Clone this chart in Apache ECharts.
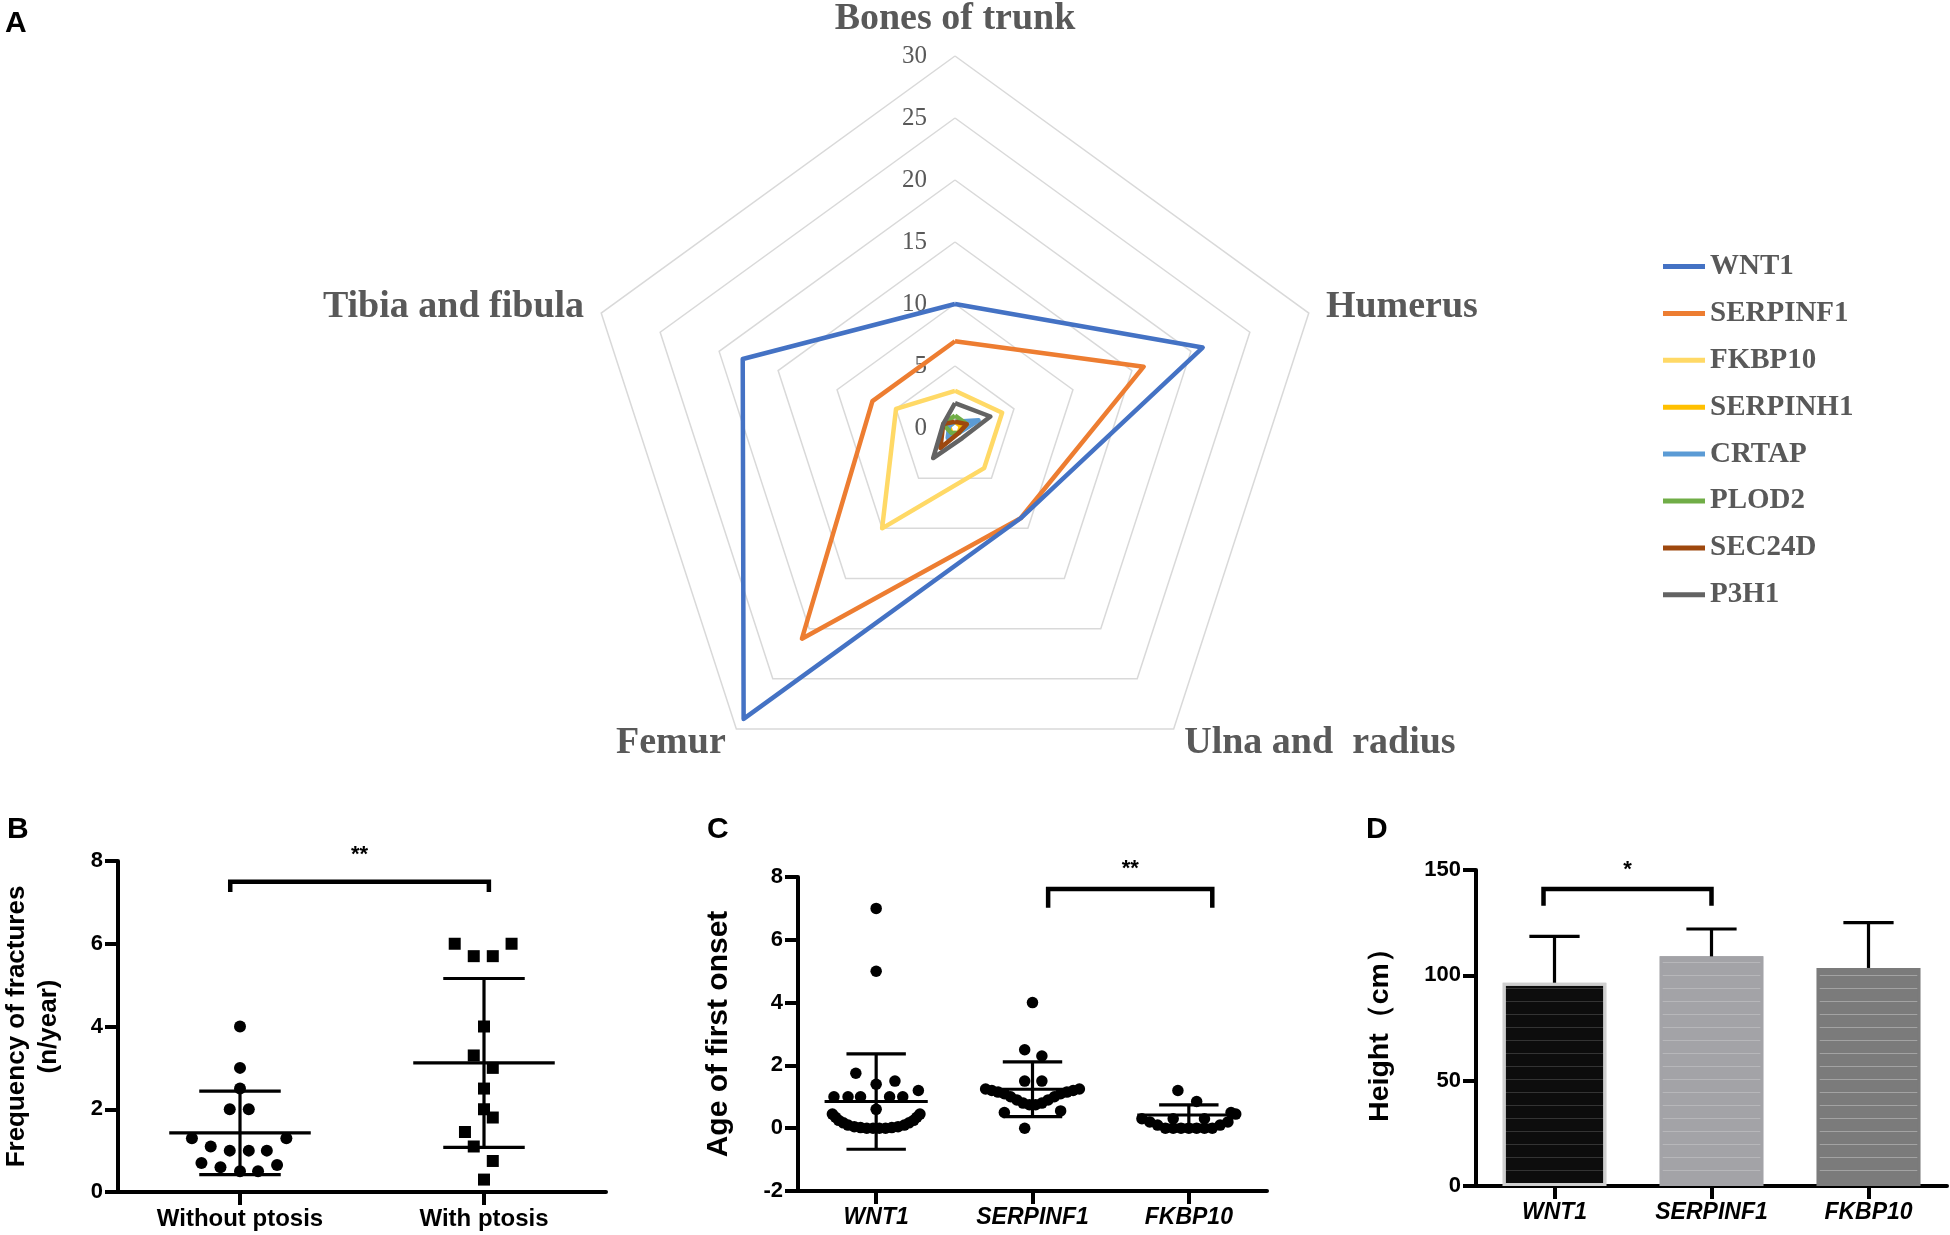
<!DOCTYPE html>
<html><head><meta charset="utf-8">
<script src="https://cdn.jsdelivr.net/npm/echarts@6/dist/echarts.min.js"></script>
<style>html,body{margin:0;padding:0;background:#fff}#main{width:1950px;height:1235px}</style>
</head><body><div id="main"></div>
<script>
// ================= DATA =================
// Panel A (radar) - indicators listed clockwise from top
const radarIndicators = ['Bones of trunk', 'Humerus', 'Ulna and  radius', 'Femur', 'Tibia and fibula'];
const radarMax = 30;
const radarGenes = ['WNT1', 'SERPINF1', 'FKBP10', 'SERPINH1', 'CRTAP', 'PLOD2', 'SEC24D', 'P3H1'];
const radarWNT1     = [10, 21, 9, 29, 18];
const radarSERPINF1 = [7, 16, 9, 21, 7];
const radarFKBP10   = [3, 4, 4, 10, 5];
const radarSERPINH1 = [0.5, 0.5, 0.5, 0.5, 0.5];
const radarCRTAP    = [0.5, 2, 0.5, 1, 0.5];
const radarPLOD2    = [1, 1, 0.5, 0.5, 1];
const radarSEC24D   = [0.5, 1, 0.5, 2, 1];
const radarP3H1     = [2, 3, 1, 3, 1];

// Panel B
const bCategories = ['Without ptosis', 'With ptosis'];
const bWithoutValues = [4, 3, 2.5, 2, 2, 1.3, 1.3, 1.1, 1, 1, 1, 0.7, 0.65, 0.6, 0.5, 0.5];
const bWithoutJitter = [0, 0, 0, -0.042, 0.036, -0.197, 0.19, -0.12, -0.042, 0.036, 0.11, -0.158, 0.152, -0.08, 0, 0.074];
const bWithValues = [6, 6, 5.7, 5.7, 4, 3.3, 3, 2.5, 2, 1.8, 1.45, 1.1, 0.75, 0.3];
const bWithJitter = [-0.12, 0.113, -0.042, 0.036, 0, -0.042, 0.036, 0, 0, 0.036, -0.078, -0.042, 0.036, 0];
const bMean = [1.43, 3.12];
const bSD = [1.01, 2.04];
const bSig = [-0.04, 1.02, 7.5, 7.25, 8.15];
const bSigLabel = '**';

// Panel C
const cCategories = ['WNT1', 'SERPINF1', 'FKBP10'];
const cWNT1Values = [7, 5, 1.75, 1.5, 1.4, 1.2, 1, 1, 1, 1, 1, 0.6,
  0.45, 0.35, 0.25, 0.17, 0.1, 0.05, 0.02, 0, 0, 0, 0, 0.02, 0.05, 0.1, 0.17, 0.25, 0.35, 0.45];
const cWNT1Jitter = [0, 0, -0.13, 0.12, 0, 0.27, -0.27, -0.18, -0.1, 0.086, 0.17, 0,
  -0.28, -0.26, -0.24, -0.21, -0.18, -0.14, -0.1, -0.06, -0.02, 0.02, 0.06, 0.1, 0.14, 0.18, 0.21, 0.24, 0.26, 0.28];
const cSERPINF1Values = [4, 2.5, 2.3, 1.5, 1.5, 1.25, 1.2, 1.15, 1.1, 1.0, 0.9, 0.8, 0.75, 0.75, 0.8, 0.9, 1.0, 1.1, 1.15, 1.2, 1.25, 0.5, 0.55, 0];
const cSERPINF1Jitter = [0, -0.05, 0.06, -0.05, 0.06, -0.3, -0.26, -0.22, -0.18, -0.14, -0.1, -0.06, -0.02, 0.02, 0.06, 0.1, 0.14, 0.18, 0.22, 0.26, 0.3, -0.18, 0.18, -0.05];
const cFKBP10Values = [1.2, 0.85, 0.5, 0.45, 0.3, 0.2, 0.1, 0, 0, 0, 0, 0, 0, 0, 0.1, 0.2, 0.3, 0.3];
const cFKBP10Jitter = [-0.07, 0.05, 0.27, 0.3, -0.3, -0.25, -0.2, -0.15, -0.1, -0.05, 0, 0.05, 0.1, 0.15, 0.2, 0.25, -0.1, 0.1];
const cMean = [0.85, 1.24, 0.42];
const cSD = [1.52, 0.87, 0.32];
const cSig = [1.1, 2.15, 7.62, 7.02, 8.25];
const cSigLabel = '**';

// Panel D
const dCategories = ['WNT1', 'SERPINF1', 'FKBP10'];
const dHeight = [96.5, 109, 103.5];
const dSD = [22, 13, 21.5];
const dSig = [-0.07, 1.0, 141, 133, 150];
const dSigLabel = '*';

// ================= STYLE =================
const radarColors = ['#4472C4', '#ED7D31', '#FFD966', '#FFC000', '#5B9BD5', '#70AD47', '#9E480E', '#636363'];
const radarZ = [9, 8, 7, 1, 3, 4, 5, 6];
const dColors = ['#0d0d0d', '#a3a3a7', '#7b7b7b'];
const dBorders = ['#cfcfcf', '#a3a3a7', '#7b7b7b'];
const dDecal = ['rgba(255,255,255,0.16)', 'rgba(255,255,255,0.22)', 'rgba(255,255,255,0.30)'];
const SANS = 'Liberation Sans';
const SERIF = 'Liberation Serif';

// ECharts places radar indicators counter-clockwise: reorder
const ccw = [0, 4, 3, 2, 1];
const reorder = arr => ccw.map(i => arr[i]);
const radarSeriesValues = [radarWNT1, radarSERPINF1, radarFKBP10, radarSERPINH1, radarCRTAP, radarPLOD2, radarSEC24D, radarP3H1];

const chart = echarts.init(document.getElementById('main'), null, {renderer: 'canvas'});

const axisLineStyle = {show: true, onZero: false, lineStyle: {color: '#000', width: 4}};
const axisTickStyle = {show: true, length: 13, lineStyle: {color: '#000', width: 4}};
const yLabel = {color: '#000', fontFamily: SANS, fontWeight: 'bold', fontSize: 22, margin: 15};

function catAxis(grid, cats, italic, size) {
  return {
    type: 'category', gridIndex: grid, data: cats,
    axisLine: axisLineStyle, axisTick: Object.assign({alignWithLabel: true}, axisTickStyle),
    axisLabel: {color: '#000', fontFamily: SANS, fontWeight: 'bold', fontStyle: italic ? 'italic' : 'normal', fontSize: size, margin: 15, interval: 0},
    splitLine: {show: false}
  };
}
function hiddenValX(grid, n) {
  return {type: 'value', gridIndex: grid, min: -0.5, max: n - 0.5, show: false,
    axisLine: {show: false, onZero: false}, splitLine: {show: false}};
}
function yAxis(grid, min, max, interval, name, nameGap, nameSize, lh) {
  return {
    type: 'value', gridIndex: grid, min: min, max: max, interval: interval,
    axisLine: axisLineStyle, axisTick: axisTickStyle,
    axisLabel: yLabel, splitLine: {show: false},
    name: name, nameLocation: 'middle', nameGap: nameGap, nameRotate: 90,
    nameTextStyle: {color: '#000', fontFamily: SANS, fontWeight: 'bold', fontSize: nameSize, lineHeight: lh}
  };
}

function errorBars(meanHalf, capHalf, twoSided) {
  return function (params, api) {
    const x = api.value(0), m = api.value(1), s = api.value(2);
    const band = api.size([1, 0])[0];
    const c = api.coord([x, m]);
    const top = api.coord([x, m + s]);
    const bot = twoSided ? api.coord([x, m - s]) : c;
    const st = {stroke: '#000', lineWidth: 3.2};
    const children = [
      {type: 'line', shape: {x1: top[0], y1: top[1], x2: bot[0], y2: bot[1]}, style: st},
      {type: 'line', shape: {x1: top[0] - band * capHalf, y1: top[1], x2: top[0] + band * capHalf, y2: top[1]}, style: st}
    ];
    if (twoSided) {
      children.push({type: 'line', shape: {x1: c[0] - band * meanHalf, y1: c[1], x2: c[0] + band * meanHalf, y2: c[1]}, style: st});
      children.push({type: 'line', shape: {x1: bot[0] - band * capHalf, y1: bot[1], x2: bot[0] + band * capHalf, y2: bot[1]}, style: st});
    }
    return {type: 'group', children: children};
  };
}
function bracket(label) {
  return function (params, api) {
    const x1 = api.value(0), x2 = api.value(1), y = api.value(2), d = api.value(3), ly = api.value(4);
    const p1 = api.coord([x1, d]), p2 = api.coord([x1, y]), p3 = api.coord([x2, y]), p4 = api.coord([x2, d]);
    const pl = api.coord([(x1 + x2) / 2, ly]);
    return {type: 'group', children: [
      {type: 'polyline', shape: {points: [p1, p2, p3, p4]}, style: {stroke: '#000', lineWidth: 4.5, fill: null}},
      {type: 'text', x: pl[0], y: pl[1], style: {text: label, fill: '#000', font: 'bold 22px ' + SANS, align: 'center', verticalAlign: 'middle'}}
    ]};
  };
}
const zipPts = (vals, jit, idx) => vals.map((v, i) => [idx + jit[i], v]);
const errData = (mean, sd) => mean.map((m, i) => [i, m, sd[i]]);
const dotStyle = {color: '#000', opacity: 1};

const option = {
  backgroundColor: '#fff',
  animation: false,
  title: [
    {text: 'A', left: 0, top: 4, textStyle: {fontFamily: SANS, fontWeight: 'bold', fontSize: 30, color: '#000'}},
    {text: 'B', left: 2, top: 810, textStyle: {fontFamily: SANS, fontWeight: 'bold', fontSize: 30, color: '#000'}},
    {text: 'C', left: 702, top: 810, textStyle: {fontFamily: SANS, fontWeight: 'bold', fontSize: 30, color: '#000'}},
    {text: 'D', left: 1361, top: 810, textStyle: {fontFamily: SANS, fontWeight: 'bold', fontSize: 30, color: '#000'}}
  ],
  legend: {
    data: radarGenes, orient: 'vertical', left: 1658, top: 247,
    icon: 'rect', itemWidth: 42, itemHeight: 5, itemGap: 17.9,
    textStyle: {fontFamily: SERIF, fontWeight: 'bold', fontSize: 29, color: '#595959'}
  },
  radar: {
    center: [955, 428], radius: 372, startAngle: 90, splitNumber: 6, shape: 'polygon',
    indicator: reorder(radarIndicators).map((n, i) => i === 0
      ? {name: n, min: 0, max: radarMax, axisLabel: {show: true}}
      : {name: n, min: 0, max: radarMax}),
    axisName: {fontFamily: SERIF, fontWeight: 'bold', fontSize: 38, color: '#595959'},
    nameGap: 18,
    axisLine: {show: false},
    axisTick: {show: false},
    axisLabel: {show: false, color: '#595959', fontFamily: SERIF, fontSize: 25, margin: 28},
    splitLine: {lineStyle: {color: '#d9d9d9', width: 1.5}},
    splitArea: {show: false}
  },
  grid: [
    {left: 111, top: 861, width: 495, height: 331},
    {left: 798, top: 877, width: 469, height: 314},
    {left: 1476, top: 870, width: 471, height: 316}
  ],
  xAxis: [
    catAxis(0, bCategories, false, 24), hiddenValX(0, 2),
    catAxis(1, cCategories, true, 23), hiddenValX(1, 3),
    catAxis(2, dCategories, true, 23), hiddenValX(2, 3)
  ],
  yAxis: [
    yAxis(0, 0, 8, 2, 'Frequency of fractures\n(n/year)', 53, 26, 32),
    yAxis(1, -2, 8, 2, 'Age of first onset', 62, 30, 34),
    yAxis(2, 0, 150, 50, 'Height（cm）', 80, 28.5, 32)
  ],
  series: [
    ...radarGenes.map((g, i) => ({
      type: 'radar', name: g, symbol: 'none', z: radarZ[i],
      lineStyle: {width: 4.5, color: radarColors[i]}, itemStyle: {color: radarColors[i]},
      data: [{value: reorder(radarSeriesValues[i]), name: g}]
    })),
    // Panel B
    {type: 'scatter', xAxisIndex: 1, yAxisIndex: 0, symbol: 'circle', symbolSize: 12, itemStyle: dotStyle,
      data: zipPts(bWithoutValues, bWithoutJitter, 0)},
    {type: 'scatter', xAxisIndex: 1, yAxisIndex: 0, symbol: 'rect', symbolSize: 12, itemStyle: dotStyle,
      data: zipPts(bWithValues, bWithJitter, 1)},
    {type: 'custom', xAxisIndex: 1, yAxisIndex: 0, z: 5, renderItem: errorBars(0.29, 0.167, true), data: errData(bMean, bSD)},
    {type: 'custom', xAxisIndex: 1, yAxisIndex: 0, z: 5, clip: false, renderItem: bracket(bSigLabel), data: [bSig]},
    // Panel C
    {type: 'scatter', xAxisIndex: 3, yAxisIndex: 1, symbol: 'circle', symbolSize: 11.5, itemStyle: dotStyle,
      data: zipPts(cWNT1Values, cWNT1Jitter, 0)},
    {type: 'scatter', xAxisIndex: 3, yAxisIndex: 1, symbol: 'circle', symbolSize: 11.5, itemStyle: dotStyle,
      data: zipPts(cSERPINF1Values, cSERPINF1Jitter, 1)},
    {type: 'scatter', xAxisIndex: 3, yAxisIndex: 1, symbol: 'circle', symbolSize: 11.5, itemStyle: dotStyle,
      data: zipPts(cFKBP10Values, cFKBP10Jitter, 2)},
    {type: 'custom', xAxisIndex: 3, yAxisIndex: 1, z: 5, renderItem: errorBars(0.33, 0.19, true), data: errData(cMean, cSD)},
    {type: 'custom', xAxisIndex: 3, yAxisIndex: 1, z: 5, clip: false, renderItem: bracket(cSigLabel), data: [cSig]},
    // Panel D
    {type: 'bar', xAxisIndex: 4, yAxisIndex: 2, barWidth: '66%',
      data: dHeight.map((v, i) => ({value: v, itemStyle: {color: dColors[i], borderColor: dBorders[i], borderWidth: 3,
        decal: {symbol: 'rect', symbolSize: 1, dashArrayX: [1, 0], dashArrayY: [1, 12], color: dDecal[i]}}}))},
    {type: 'custom', xAxisIndex: 5, yAxisIndex: 2, z: 5, renderItem: errorBars(0, 0.16, false), data: errData(dHeight, dSD)},
    {type: 'custom', xAxisIndex: 5, yAxisIndex: 2, z: 5, clip: false, renderItem: bracket(dSigLabel), data: [dSig]}
  ]
};
chart.setOption(option);
</script>
</body></html>
